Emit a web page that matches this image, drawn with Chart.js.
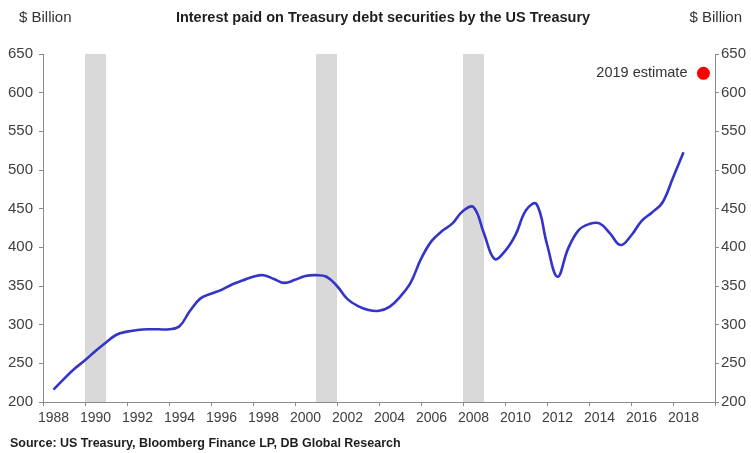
<!DOCTYPE html>
<html>
<head>
<meta charset="utf-8">
<script src="https://cdn.jsdelivr.net/npm/chart.js@4.4.0/dist/chart.umd.min.js"></script>
<style>
    body { margin: 0; background: #fff; }
    #wrap { width: 751px; height: 453px; }
</style>
</head>
<body>
<div id="wrap"><canvas id="chart" width="751" height="453"></canvas></div>
<script>
// =============================
// DATA
// =============================
const titleText = "Interest paid on Treasury debt securities by the US Treasury";
const unitText = "$ Billion";
const sourceText = "Source: US Treasury, Bloomberg Finance LP, DB Global Research";

const years = [
    1988.5, 1989, 1989.5, 1990, 1990.5, 1991, 1991.5, 1992, 1992.5, 1993, 1993.5,
    1994, 1994.5, 1995, 1995.5, 1996, 1996.5, 1997, 1997.5, 1998, 1998.5, 1999,
    1999.5, 2000, 2000.5, 2001, 2001.5, 2002, 2002.5, 2003, 2003.5, 2004, 2004.5,
    2005, 2005.5, 2006, 2006.5, 2007, 2007.5, 2008, 2008.5, 2009, 2009.5,
    2010, 2010.5, 2011, 2011.5, 2012, 2012.5, 2013, 2013.5,
    2014, 2014.5, 2015, 2015.5, 2016, 2016.5, 2017, 2017.5, 2018, 2018.5
];
const interestPaid = [
    216, 230, 243, 254, 266, 277, 287, 291, 293, 294, 294,
    294, 298, 318, 334, 340, 345, 352, 357, 362, 364, 359,
    354, 358, 363, 364, 362, 350, 333, 324, 319, 318, 323,
    336, 354, 385, 408, 421, 431, 447, 452, 418, 385,
    395, 416, 448, 456, 404, 362, 398, 422,
    430, 431, 418, 403, 415, 434, 445, 458, 490, 523
];

const estimateYear = [2019.45];
const estimateValue = [625];
const estimateLabel = "2019 estimate";

const recessionStart = [1990, 2001, 2008];
const recessionEnd = [1991, 2002, 2009];

const yMin = 200, yMax = 650, yStep = 50;
const xMin = 1988, xMax = 2020, xStep = 2;

// =============================
// DATASETS
// =============================
const recessionSets = recessionStart.map((s, i) => ({
    type: "line",
    data: [{x: s, y: yMax}, {x: recessionEnd[i], y: yMax}],
    borderWidth: 0,
    pointRadius: 0,
    backgroundColor: "#d9d9d9",
    fill: "start",
    order: 3
}));

const lineSet = {
    type: "line",
    data: years.map((x, i) => ({x, y: interestPaid[i]})),
    borderColor: "#3434c8",
    borderWidth: 2.6,
    pointRadius: 0,
    fill: false,
    tension: 0.4,
    order: 1
};

const estimateSet = {
    type: "scatter",
    data: estimateYear.map((x, i) => ({x, y: estimateValue[i]})),
    backgroundColor: "#ff0000",
    borderWidth: 0,
    pointRadius: 6.5,
    order: 0
};

// =============================
// TEXT PLUGIN
// =============================
const textPlugin = {
    id: "texts",
    afterDraw(chart) {
        const ctx = chart.ctx;
        ctx.save();
        ctx.textBaseline = "middle";

        ctx.fillStyle = "#1e1e1e";
        ctx.font = 'bold 14.5px "Liberation Sans"';
        ctx.textAlign = "center";
        ctx.fillText(titleText, 383, 18);

        ctx.font = '15px "Liberation Sans"';
        ctx.fillStyle = "#333";
        ctx.textAlign = "left";
        ctx.fillText(unitText, 19, 18);
        ctx.textAlign = "right";
        ctx.fillText(unitText, 742, 18);

        const meta = chart.getDatasetMeta(chart.data.datasets.length - 1);
        const pt = meta.data[0];
        ctx.fillStyle = "#333";
        ctx.font = '14.5px "Liberation Sans"';
        ctx.fillText(estimateLabel, pt.x - 16, pt.y);

        ctx.fillStyle = "#1e1e1e";
        ctx.font = 'bold 12.5px "Liberation Sans"';
        ctx.textAlign = "left";
        ctx.fillText(sourceText, 10, 444);
        ctx.restore();
    }
};

// =============================
// CHART
// =============================
const xFont = {family: "Liberation Sans", size: 14};
const yFont = {family: "Liberation Sans", size: 15};
const axisColor = "#8a8a8a";

new Chart(document.getElementById("chart"), {
    data: {datasets: [...recessionSets, lineSet, estimateSet]},
    options: {
        responsive: false,
        animation: false,
        layout: {padding: {top: 54, bottom: 21, left: 0, right: 0}},
        plugins: {legend: {display: false}, tooltip: {enabled: false}},
        scales: {
            x: {
                type: "linear",
                min: xMin,
                max: xMax,
                afterFit: s => { s.height = 30; },
                border: {color: axisColor},
                grid: {drawOnChartArea: false, color: axisColor, tickLength: 4},
                ticks: {
                    stepSize: xStep,
                    autoSkip: false,
                    maxRotation: 0,
                    labelOffset: 10.5,
                    color: "#404040",
                    font: xFont,
                    padding: 4,
                    callback: v => v === xMax ? "" : String(v)
                }
            },
            y: {
                position: "left",
                min: yMin,
                max: yMax,
                afterFit: s => { s.width = 43; },
                border: {color: axisColor},
                grid: {drawOnChartArea: false, color: axisColor, tickLength: 4},
                ticks: {stepSize: yStep, color: "#404040", font: yFont, padding: 6}
            },
            y2: {
                position: "right",
                min: yMin,
                max: yMax,
                afterFit: s => { s.width = 36; },
                border: {color: axisColor},
                grid: {drawOnChartArea: false, color: axisColor, tickLength: 4},
                ticks: {stepSize: yStep, color: "#404040", font: yFont, padding: 2}
            }
        }
    },
    plugins: [textPlugin]
});
</script>
</body>
</html>
